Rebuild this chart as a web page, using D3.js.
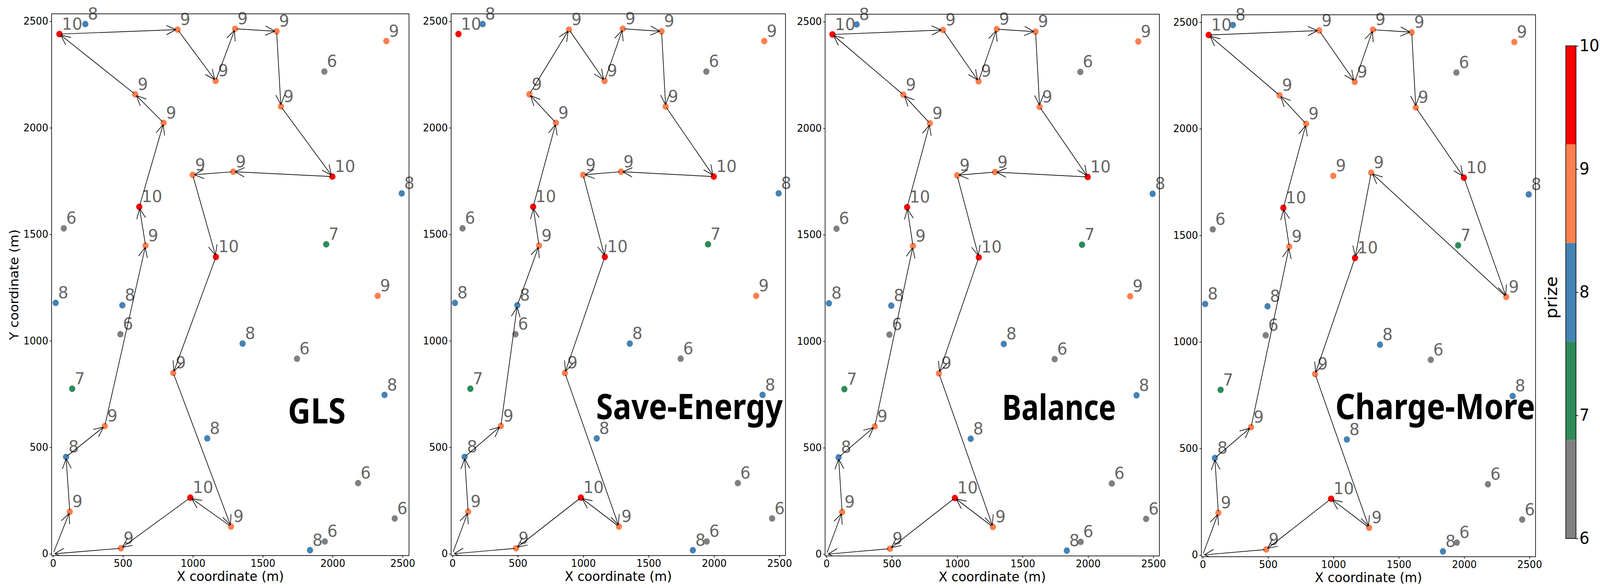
<!DOCTYPE html>
<html lang="en">
<head>
    <meta charset="UTF-8">
    <title>Routes per strategy</title>
    <script src="https://d3js.org/d3.v7.min.js"></script>
    <style>
        body, html { margin: 0; padding: 0; background: #fff; overflow: hidden; }
        svg { display: block; }
        text { font-family: "DejaVu Sans", sans-serif; }
        .tick line, .frame { stroke: #000; stroke-width: 1.7px; }
        .frame { fill: none; }
        .edge { stroke: #000; stroke-width: 1.7px; fill: none; }
    </style>
</head>
<body>
    <div id="chart"></div>
    <script>
        // node 0 is the depot, it has no prize and no dot
        const nodeX = [0, 46, 231, 891, 1302, 1599, 2384, 1941, 1163, 588, 1630, 791, 999, 1289, 1998, 2494, 617, 77, 662, 1954, 1165, 2322, 19, 496, 482, 1356, 1745, 860, 137, 2371, 370, 1103, 93, 2182, 982, 120, 2444, 1273, 1944, 486, 1838];
        const nodeY = [0, 2440, 2487, 2461, 2465, 2453, 2407, 2264, 2220, 2157, 2100, 2023, 1779, 1794, 1771, 1692, 1629, 1528, 1447, 1453, 1394, 1211, 1178, 1167, 1031, 987, 916, 849, 775, 746, 600, 542, 455, 332, 264, 198, 166, 128, 58, 26, 17];
        const prize = [null, 10, 8, 9, 9, 9, 9, 6, 9, 9, 9, 9, 9, 9, 10, 8, 10, 6, 9, 7, 10, 9, 8, 8, 6, 8, 6, 9, 7, 8, 9, 8, 8, 6, 10, 9, 6, 9, 6, 9, 8];

        const routeGLS = [0, 35, 32, 30, 18, 16, 11, 9, 1, 3, 8, 4, 5, 10, 14, 13, 12, 20, 27, 37, 34, 39, 0];
        const routeSaveEnergy = [0, 35, 32, 30, 23, 18, 16, 11, 9, 3, 8, 4, 5, 10, 14, 13, 12, 20, 27, 37, 34, 39, 0];
        const routeBalance = [0, 35, 32, 30, 18, 16, 11, 9, 1, 3, 8, 4, 5, 10, 14, 13, 12, 20, 27, 37, 34, 39, 0];
        const routeChargeMore = [0, 35, 32, 30, 18, 16, 11, 9, 1, 3, 8, 4, 5, 10, 14, 21, 13, 20, 27, 37, 34, 39, 0];

        const panelNames = ["GLS", "Save-Energy", "Balance", "Charge-More"];
        const panelRoutes = [routeGLS, routeSaveEnergy, routeBalance, routeChargeMore];
        const axisTicks = [0, 500, 1000, 1500, 2000, 2500];
        const prizeLevels = [6, 7, 8, 9, 10];
        const prizeColors = ["#808080", "#2e8b57", "#4682b4", "#ff7f50", "#ff0000"];

        // layout, pixels of the 4268x1504 drawing
        const width = 4268, height = 1504;
        const frames = [
            {left: 137.7, right: 1091, top: 35.4, bottom: 1421},
            {left: 1203.4, right: 2095.2, top: 35.4, bottom: 1421},
            {left: 2201, right: 3092.8, top: 36.4, bottom: 1422},
            {left: 3204.7, right: 4096, top: 37.8, bottom: 1424}
        ];
        const titleBoxes = [
            {left: 768, right: 922, baseline: 1083},
            {left: 1590, right: 2088, baseline: 1072},
            {left: 2673, right: 2977, baseline: 1074},
            {left: 3562, right: 4095, baseline: 1072}
        ];
        const xDomain = [-10, 2546], yDomain = [-8, 2535];
        const dotRadius = 8.3, shrink = 4.5, headLength = 28, headAngle = 25 * Math.PI / 180;

        // the browser window can be narrower than the drawing, so fit it to the window
        const svg = d3.select("#chart").append("svg")
            .attr("viewBox", `0 0 ${width} ${height}`)
            .attr("preserveAspectRatio", "none")
            .style("width", "100vw")
            .style("height", "100vh");
        svg.append("rect").attr("width", width).attr("height", height).attr("fill", "#fff");

        const color = d3.scaleOrdinal().domain(prizeLevels).range(prizeColors);
        const nodes = nodeX.map((x, i) => ({x: x, y: nodeY[i], prize: prize[i]}));

        frames.forEach((f, p) => {
            const x = d3.scaleLinear().domain(xDomain).range([f.left, f.right]);
            const y = d3.scaleLinear().domain(yDomain).range([f.bottom, f.top]);
            const g = svg.append("g");

            g.append("clipPath").attr("id", "clip" + p)
                .append("rect")
                .attr("x", f.left).attr("y", f.top)
                .attr("width", f.right - f.left).attr("height", f.bottom - f.top);

            const xAxis = g.append("g")
                .attr("transform", `translate(0,${f.bottom})`)
                .call(d3.axisBottom(x).tickValues(axisTicks).tickFormat(d3.format("d")).tickSize(5).tickPadding(6));
            const yAxis = g.append("g")
                .attr("transform", `translate(${f.left},0)`)
                .call(d3.axisLeft(y).tickValues(axisTicks).tickFormat(d3.format("d")).tickSize(5).tickPadding(4));
            [xAxis, yAxis].forEach(a => {
                a.select(".domain").remove();
                a.selectAll("text").attr("font-size", 26).attr("font-family", "DejaVu Sans").attr("fill", "#000");
            });

            const visited = nodes.filter(d => d.prize !== null);
            g.selectAll("circle")
                .data(visited)
                .enter()
                .append("circle")
                .attr("cx", d => x(d.x))
                .attr("cy", d => y(d.y))
                .attr("r", dotRadius)
                .attr("fill", d => color(d.prize));

            g.selectAll(".node-label")
                .data(visited)
                .enter()
                .append("text")
                .attr("class", "node-label")
                .attr("x", d => x(d.x) + 6.5)
                .attr("y", d => y(d.y) - 11.6)
                .attr("font-size", 43)
                .attr("fill", "#666")
                .text(d => d.prize);

            // open arrow heads, one path per leg of the tour
            const legs = d3.pairs(panelRoutes[p]);
            g.append("g")
                .attr("clip-path", `url(#clip${p})`)
                .selectAll("path")
                .data(legs)
                .enter()
                .append("path")
                .attr("class", "edge")
                .attr("d", ([a, b]) => {
                    const x0 = x(nodes[a].x), y0 = y(nodes[a].y);
                    const x1 = x(nodes[b].x), y1 = y(nodes[b].y);
                    const ang = Math.atan2(y1 - y0, x1 - x0);
                    const sx = x0 + shrink * Math.cos(ang), sy = y0 + shrink * Math.sin(ang);
                    const tx = x1 - shrink * Math.cos(ang), ty = y1 - shrink * Math.sin(ang);
                    const path = d3.path();
                    path.moveTo(sx, sy);
                    path.lineTo(tx, ty);
                    [-1, 1].forEach(side => {
                        path.moveTo(tx, ty);
                        path.lineTo(tx - headLength * Math.cos(ang + side * headAngle),
                            ty - headLength * Math.sin(ang + side * headAngle));
                    });
                    return path.toString();
                });

            g.append("rect")
                .attr("class", "frame")
                .attr("x", f.left).attr("y", f.top)
                .attr("width", f.right - f.left).attr("height", f.bottom - f.top);

            g.append("text")
                .attr("x", (f.left + f.right) / 2)
                .attr("y", f.bottom + 65)
                .attr("text-anchor", "middle")
                .attr("font-size", 34)
                .text("X coordinate (m)");

            if (p === 0) {
                g.append("text")
                    .attr("transform", `translate(49,${(f.top + f.bottom) / 2}) rotate(-90)`)
                    .attr("text-anchor", "middle")
                    .attr("font-size", 34)
                    .text("Y coordinate (m)");
            }

            const t = titleBoxes[p];
            g.append("text")
                .attr("x", t.left)
                .attr("y", t.baseline)
                .attr("textLength", t.right - t.left)
                .attr("lengthAdjust", "spacingAndGlyphs")
                .attr("font-size", 90)
                .attr("font-weight", "bold")
                .style("font-family", '"Noto Sans", sans-serif')
                .text(panelNames[p]);
        });

        // colour bar, five equal bands over the prize range
        const bar = {left: 4176.7, right: 4204, top: 117.3, bottom: 1377.4};
        const barScale = d3.scaleLinear().domain(d3.extent(prizeLevels)).range([bar.bottom, bar.top]);
        const bands = d3.scaleQuantize().domain(d3.extent(prizeLevels)).range(prizeColors);
        const barG = svg.append("g");

        barG.selectAll("rect")
            .data(prizeColors)
            .enter()
            .append("rect")
            .attr("x", bar.left)
            .attr("width", bar.right - bar.left)
            .attr("y", d => barScale(bands.invertExtent(d)[1]))
            .attr("height", d => barScale(bands.invertExtent(d)[0]) - barScale(bands.invertExtent(d)[1]))
            .attr("fill", d => d);

        barG.append("rect")
            .attr("class", "frame")
            .attr("x", bar.left).attr("y", bar.top)
            .attr("width", bar.right - bar.left).attr("height", bar.bottom - bar.top);

        const barAxis = barG.append("g")
            .attr("transform", `translate(${bar.right},0)`)
            .call(d3.axisRight(barScale).tickValues(prizeLevels).tickFormat(d3.format("d")).tickSize(6).tickPadding(3));
        barAxis.select(".domain").remove();
        barAxis.selectAll("text").attr("font-size", 42).attr("font-family", "DejaVu Sans").attr("fill", "#000");

        barG.append("text")
            .attr("transform", "translate(4153,761) rotate(-90)")
            .attr("text-anchor", "middle")
            .attr("font-size", 44)
            .text("prize");
    </script>
</body>
</html>
